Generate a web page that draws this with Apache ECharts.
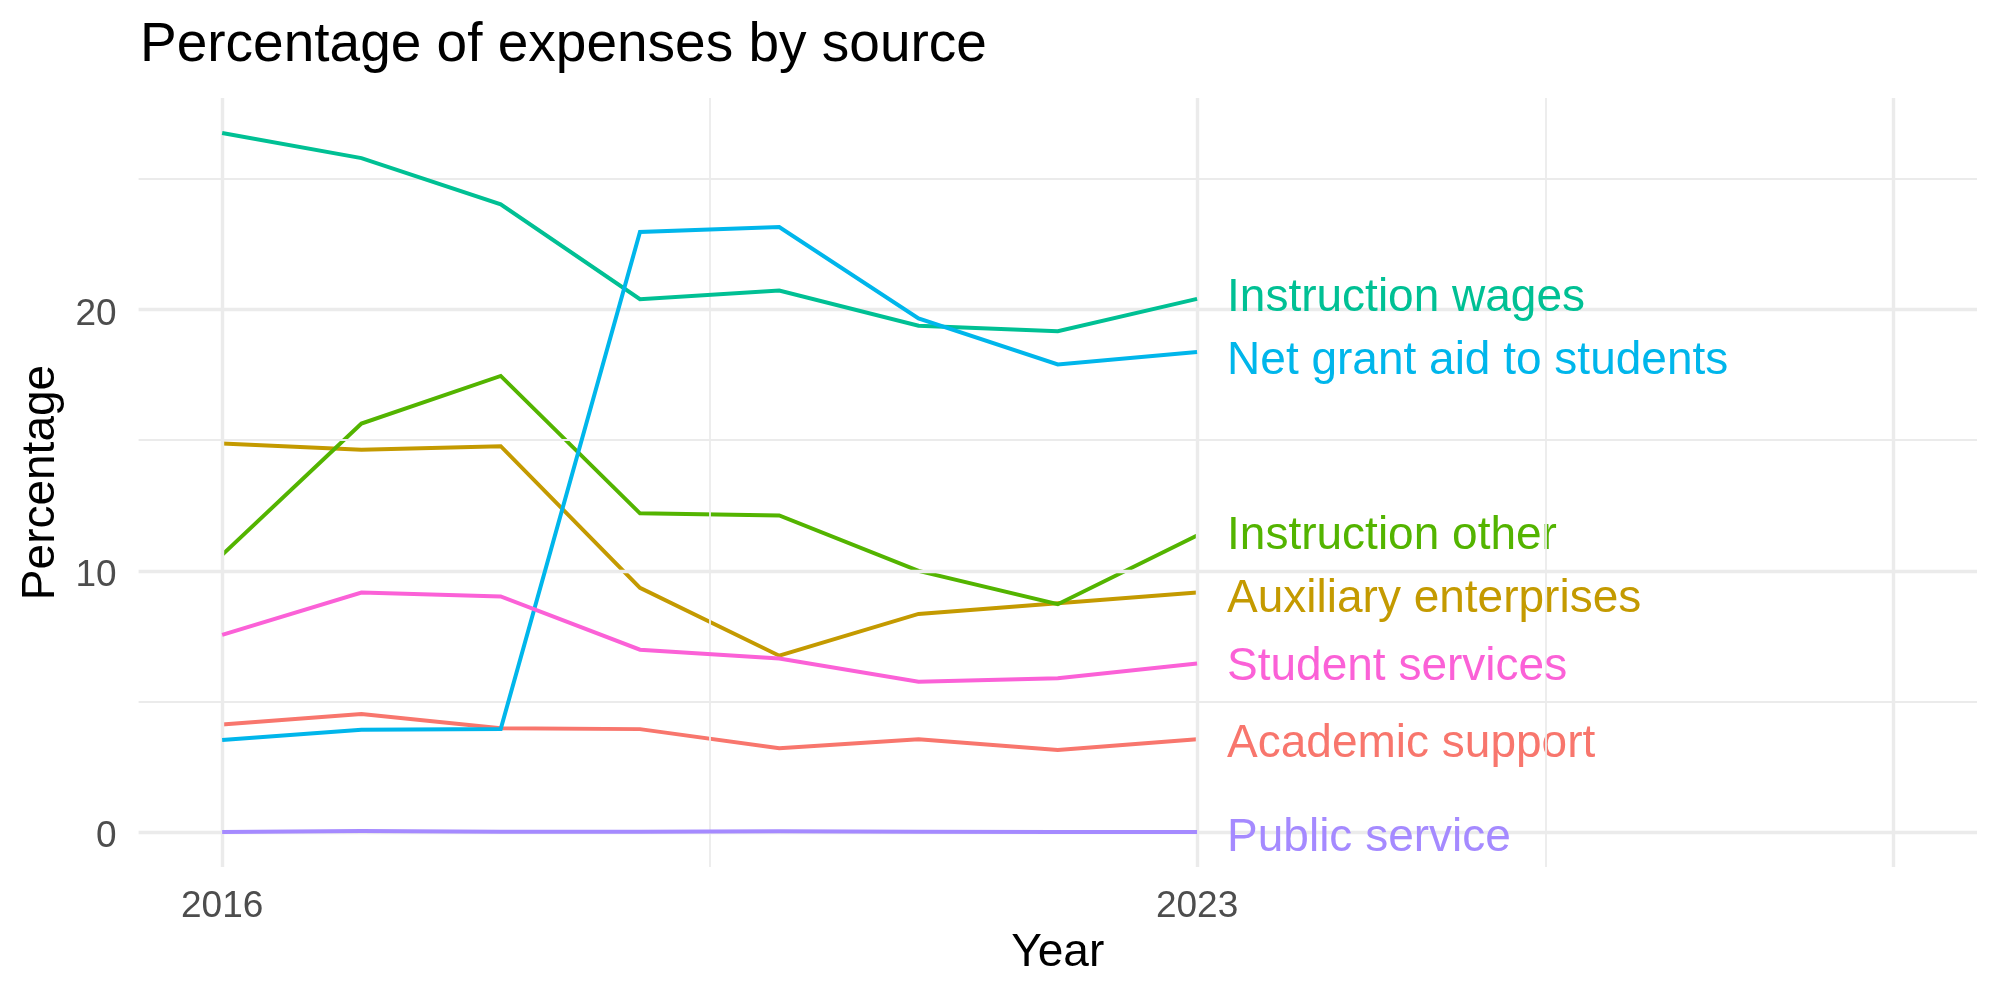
<!DOCTYPE html>
<html>
<head>
<meta charset="utf-8">
<script src="https://cdn.jsdelivr.net/npm/echarts@6/dist/echarts.min.js"></script>
<style>
  html, body { margin: 0; padding: 0; background: #ffffff; }
  #chart { width: 2000px; height: 1000px; }
</style>
</head>
<body>
<div id="chart"></div>
<script>
// ---- data ----
const years = [2016, 2017, 2018, 2019, 2020, 2021, 2022, 2023];
const academicSupport      = [4.12, 4.52, 3.97, 3.94, 3.21, 3.55, 3.14, 3.55];
const auxiliaryEnterprises = [14.87, 14.63, 14.77, 9.35, 6.75, 8.35, 8.76, 9.17];
const instructionOther     = [10.61, 15.64, 17.46, 12.20, 12.12, 10.00, 8.72, 11.35];
const instructionWages     = [26.76, 25.80, 24.03, 20.40, 20.73, 19.38, 19.17, 20.41];
const netGrantAid          = [3.52, 3.92, 3.94, 22.97, 23.16, 19.66, 17.90, 18.38];
const publicService        = [0.00, 0.04, 0.01, 0.01, 0.03, 0.01, 0.00, 0.00];
const studentServices      = [7.55, 9.17, 9.02, 6.98, 6.64, 5.75, 5.89, 6.45];

const seriesNames = ['Academic support', 'Auxiliary enterprises', 'Instruction other',
  'Instruction wages', 'Net grant aid to students', 'Public service', 'Student services'];
const seriesValues = [academicSupport, auxiliaryEnterprises, instructionOther,
  instructionWages, netGrantAid, publicService, studentServices];

const xTickValues = [2016, 2023];
const yTickValues = [0, 10, 20];
const xMajorGrid = [2016, 2023, 2028];
const xMinorGrid = [2019.5, 2025.5];
const yMajorGrid = [0, 10, 20];
const yMinorGrid = [5, 15, 25];

// ---- styling ----
const colors = ['#F8766D', '#C49A00', '#53B400', '#00C094', '#00B6EB', '#A58AFF', '#FB61D7'];
const labelShift = [5, 7, 1, -1, 9, 6, 4];
const FONT = '"Liberation Sans", Arial, Helvetica, sans-serif';
const GRID_COLOR = '#EBEBEB';

const gridLines = [];
xMajorGrid.forEach(v => gridLines.push({ xAxis: v, lineStyle: { width: 3.4, color: GRID_COLOR, type: 'solid' } }));
xMinorGrid.forEach(v => gridLines.push({ xAxis: v, lineStyle: { width: 1.8, color: GRID_COLOR, type: 'solid' } }));
yMajorGrid.forEach(v => gridLines.push({ yAxis: v, lineStyle: { width: 3.4, color: GRID_COLOR, type: 'solid' } }));
yMinorGrid.forEach(v => gridLines.push({ yAxis: v, lineStyle: { width: 1.8, color: GRID_COLOR, type: 'solid' } }));

const series = [{
  name: 'grid',
  type: 'line',
  data: [],
  silent: true,
  z: 0,
  markLine: {
    silent: true,
    symbol: ['none', 'none'],
    label: { show: false },
    emphasis: { disabled: true },
    animation: false,
    data: gridLines
  }
}];

seriesNames.forEach((name, i) => {
  series.push({
    name: name,
    type: 'line',
    z: 2 + i,
    data: years.map((y, j) => [y, seriesValues[i][j]]),
    showSymbol: false,
    symbol: 'none',
    silent: true,
    emphasis: { disabled: true },
    lineStyle: { color: colors[i], width: 4, cap: 'butt', join: 'miter' },
    itemStyle: { color: colors[i] },
    endLabel: {
      show: true,
      formatter: name,
      color: colors[i],
      fontFamily: FONT,
      fontSize: 46,
      distance: 30,
      offset: [0, labelShift[i]]
    }
  });
});

const chart = echarts.init(document.getElementById('chart'), null, { renderer: 'canvas' });
chart.setOption({
  animation: false,
  backgroundColor: '#ffffff',
  title: {
    text: 'Percentage of expenses by source',
    left: 140,
    top: 18,
    padding: 0,
    textStyle: { fontFamily: FONT, fontSize: 55, fontWeight: 'normal', color: '#000000' }
  },
  grid: { left: 138.6, right: 23, top: 98, bottom: 133, containLabel: false },
  xAxis: {
    type: 'value',
    min: 2015.4,
    max: 2028.6,
    name: 'Year',
    nameLocation: 'middle',
    nameGap: 63,
    nameTextStyle: { fontFamily: FONT, fontSize: 46, color: '#000000' },
    axisLine: { show: false },
    axisTick: { show: false },
    splitLine: { show: false },
    axisLabel: {
      customValues: xTickValues,
      formatter: v => String(v),
      fontFamily: FONT,
      fontSize: 37,
      color: '#4D4D4D',
      margin: 21
    }
  },
  yAxis: {
    type: 'value',
    min: -1.338,
    max: 28.1,
    name: 'Percentage',
    nameLocation: 'middle',
    nameGap: 67,
    nameTextStyle: { fontFamily: FONT, fontSize: 46, color: '#000000' },
    axisLine: { show: false },
    axisTick: { show: false },
    splitLine: { show: false },
    axisLabel: {
      customValues: yTickValues,
      formatter: v => '{t|' + v + '}',
      margin: 22,
      rich: {
        t: {
          fontFamily: FONT,
          fontSize: 37,
          color: '#4D4D4D',
          padding: [10, 0, 0, 0]
        }
      }
    }
  },
  series: series
});
</script>
</body>
</html>
